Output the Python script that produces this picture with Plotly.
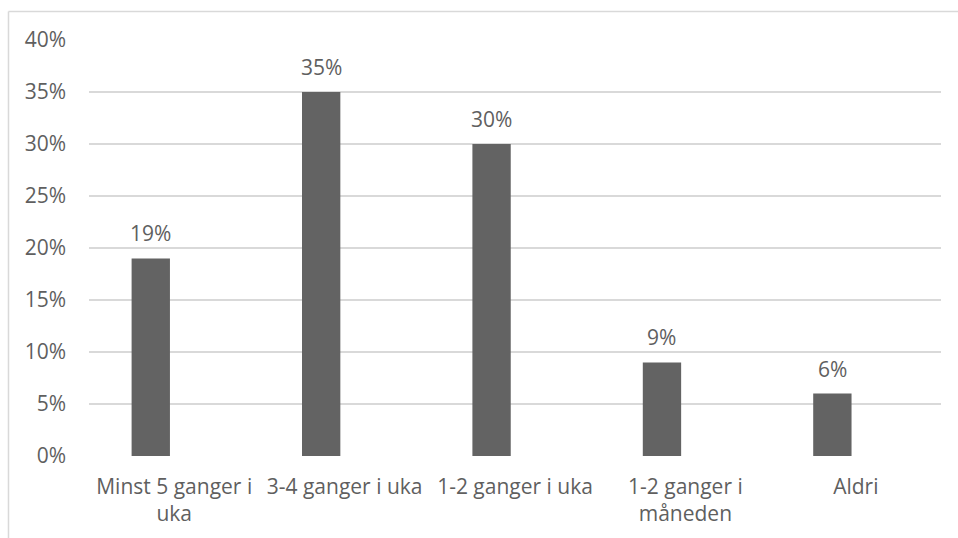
import plotly.graph_objects as go

# Survey answers: how often
categories = ["Minst 5 ganger i<br>uka", "3-4 ganger i uka", "1-2 ganger i uka",
              "1-2 ganger i<br>måneden", "Aldri"]
values = [19, 35, 30, 9, 6]
y_ticks = [0, 5, 10, 15, 20, 25, 30, 35, 40]
y_tick_labels = [f"{v}%" for v in y_ticks]

FONT = "Open Sans"
FONT_SIZE = 21
TEXT_COLOR = "#5f5f5f"
BAR_COLOR = "#636363"
GRID_COLOR = "#d9d9d9"

BAR_WIDTH = 0.225
BAR_OFFSET = -0.25

fig = go.Figure()
fig.add_trace(go.Bar(
    x=list(range(len(categories))),
    y=values,
    width=BAR_WIDTH,
    offset=BAR_OFFSET,
    marker=dict(color=BAR_COLOR, line=dict(width=0)),
    hoverinfo="skip",
))

# value labels above each bar
for i, v in enumerate(values):
    fig.add_annotation(
        x=i + BAR_OFFSET + BAR_WIDTH / 2, y=v, xref="x", yref="y",
        text=f"{v}%", showarrow=False, yanchor="bottom", yshift=9,
        font=dict(family=FONT, size=FONT_SIZE, color=TEXT_COLOR),
    )

# chart frame (top and left edges)
fig.add_shape(type="line", xref="paper", yref="paper",
              x0=-0.0945, x1=1.03, y0=1.0685, y1=1.0685,
              line=dict(color=GRID_COLOR, width=1.5))
fig.add_shape(type="line", xref="paper", yref="paper",
              x0=-0.0945, x1=-0.0945, y0=1.0685, y1=-0.25,
              line=dict(color=GRID_COLOR, width=1.5))

fig.update_layout(
    width=958, height=538,
    margin=dict(l=89, r=17, t=40, b=82),
    paper_bgcolor="white", plot_bgcolor="white",
    showlegend=False,
    font=dict(family=FONT, size=FONT_SIZE, color=TEXT_COLOR),
    xaxis=dict(
        range=[-0.5, len(categories) - 0.5],
        tickmode="array", tickvals=list(range(len(categories))), ticktext=categories,
        showgrid=False, zeroline=False, showline=False, ticks="",
        tickfont=dict(family=FONT, size=FONT_SIZE, color=TEXT_COLOR),
        ticklabelstandoff=16,
    ),
    yaxis=dict(
        range=[0, 40],
        tickmode="array", tickvals=y_ticks, ticktext=y_tick_labels,
        showgrid=True, gridcolor=GRID_COLOR, gridwidth=1.5,
        zeroline=False, showline=False, ticks="",
        tickfont=dict(family=FONT, size=FONT_SIZE, color=TEXT_COLOR),
        ticklabelstandoff=22,
    ),
)

fig.write_html("out.html")
